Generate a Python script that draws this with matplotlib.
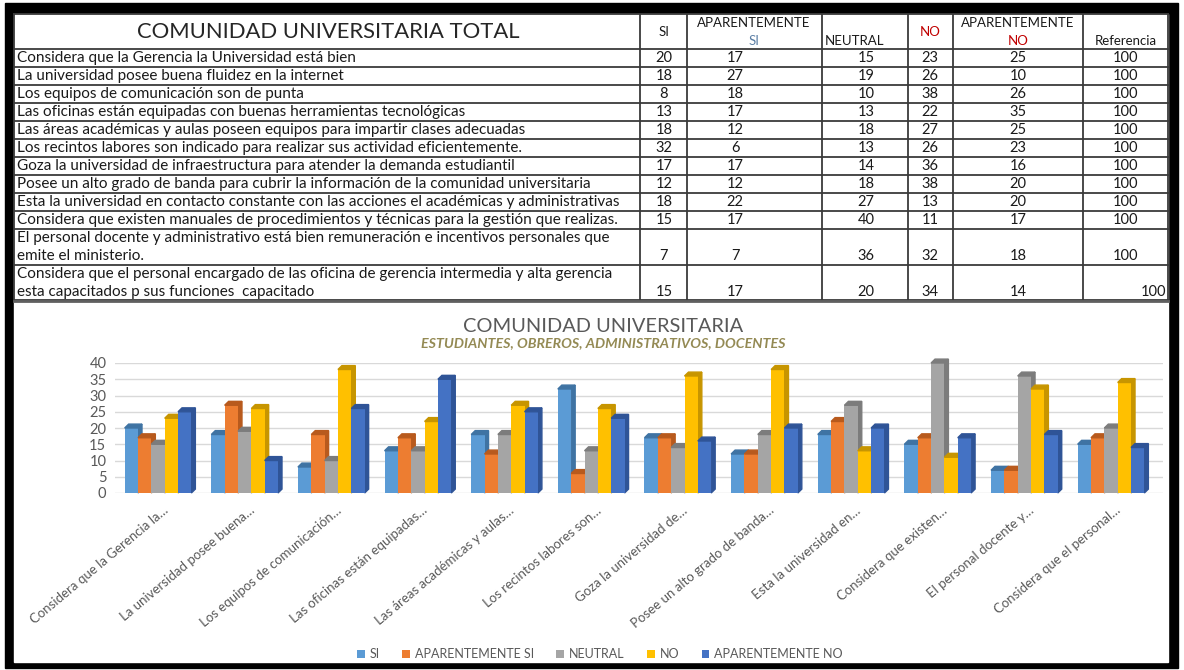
import matplotlib
matplotlib.use("Agg")
import matplotlib.pyplot as plt
from matplotlib.patches import Rectangle, Polygon
import numpy as np

plt.rcParams['font.family'] = ['Lato', 'DejaVu Sans']

# ---------------- datos ----------------
preguntas = [
    "Considera que la Gerencia la Universidad está bien",
    "La universidad posee buena fluidez en la internet",
    "Los equipos de comunicación son de punta",
    "Las oficinas están equipadas con buenas herramientas tecnológicas",
    "Las áreas académicas y aulas poseen equipos para impartir clases adecuadas",
    "Los recintos labores son indicado para realizar sus actividad eficientemente.",
    "Goza la universidad de infraestructura para atender la demanda estudiantil",
    "Posee un alto grado de banda para cubrir la información de la comunidad universitaria",
    "Esta la universidad en contacto constante con las acciones el académicas y administrativas",
    "Considera que existen manuales de procedimientos y técnicas para la gestión que realizas.",
    "El personal docente y administrativo está bien remuneración e incentivos personales que\nemite el ministerio.",
    "Considera que el personal encargado de las oficina de gerencia intermedia y alta gerencia\nesta capacitados p sus funciones  capacitado",
]
etiquetas = [
    "Considera que la Gerencia la…",
    "La universidad posee buena…",
    "Los equipos de comunicación…",
    "Las oficinas están equipadas…",
    "Las áreas académicas y aulas…",
    "Los recintos labores son…",
    "Goza la universidad de…",
    "Posee un alto grado de banda…",
    "Esta la universidad en…",
    "Considera que existen…",
    "El personal docente y…",
    "Considera que el personal…",
]
series = ["SI", "APARENTEMENTE SI", "NEUTRAL", "NO", "APARENTEMENTE NO"]
si = [20, 18, 8, 13, 18, 32, 17, 12, 18, 15, 7, 15]
ap_si = [17, 27, 18, 17, 12, 6, 17, 12, 22, 17, 7, 17]
neutral = [15, 19, 10, 13, 18, 13, 14, 18, 27, 40, 36, 20]
no = [23, 26, 38, 22, 27, 26, 36, 38, 13, 11, 32, 34]
ap_no = [25, 10, 26, 35, 25, 23, 16, 20, 20, 17, 18, 14]
referencia = [100] * 12

colores = ["#5B9BD5", "#ED7D31", "#A5A5A5", "#FFC000", "#4472C4"]
oscuros = ["#3F73A3", "#B85A1D", "#7C7C7C", "#C79500", "#2F5497"]

W, H = 1184, 670
fig = plt.figure(figsize=(W / 100, H / 100), dpi=100)

# ---------------- fondo y tabla (coordenadas en pixeles) ----------------
bg = fig.add_axes([0, 0, 1, 1])
bg.set_xlim(0, W)
bg.set_ylim(H, 0)
bg.axis("off")
bg.add_patch(Rectangle((5, 3), 1173, 665, color="black"))
bg.add_patch(Rectangle((14, 14), 1154, 648, color="white"))

linea = "#3A3A3A"
cols = [14, 640, 687, 822, 908, 953, 1083, 1168]
filas = [14, 49] + [49 + 18 * k for k in range(1, 11)] + [265, 300]
for y in filas:
    bg.plot([14, 1168], [y, y], color=linea, lw=1.3)
for x in cols:
    bg.plot([x, x], [14, 300], color=linea, lw=1.3)
bg.plot([14, 1168], [301, 301], color="#606060", lw=2)

txt = "#1A1A1A"
bg.text(328, 32, "COMUNIDAD UNIVERSITARIA TOTAL", ha="center", va="center",
        fontsize=15.8, color="#262626")
hdr = 9.5
bg.text(664, 32, "SI", ha="center", va="center", fontsize=hdr, color=txt)
bg.text(754, 23, "APARENTEMENTE", ha="center", va="center", fontsize=hdr, color=txt)
bg.text(754, 41, "SI", ha="center", va="center", fontsize=hdr, color="#5B7FA5")
bg.text(855, 41, "NEUTRAL", ha="center", va="center", fontsize=hdr, color=txt)
bg.text(930, 32, "NO", ha="center", va="center", fontsize=hdr, color="#C00000")
bg.text(1018, 23, "APARENTEMENTE", ha="center", va="center", fontsize=hdr, color=txt)
bg.text(1018, 41, "NO", ha="center", va="center", fontsize=hdr, color="#C00000")
bg.text(1126, 41, "Referencia", ha="center", va="center", fontsize=hdr, color=txt)

centros = [664, 735, 866, 930, 1018, 1126]
for i, q in enumerate(preguntas):
    if i < 10:
        yq = 58 + 18 * i
        yv = yq
    else:
        base = 229 + 36 * (i - 10)
        yq = base + 18
        yv = base + 27
    bg.text(17, yq, q, ha="left", va="center", fontsize=11, color=txt,
            linespacing=1.3)
    vals = [si[i], ap_si[i], neutral[i], no[i], ap_no[i], referencia[i]]
    for k, v in enumerate(vals):
        if i == 11 and k == 5:
            bg.text(1166, yv, str(v), ha="right", va="center", fontsize=10.5, color=txt)
        else:
            bg.text(centros[k], yv, str(v), ha="center", va="center", fontsize=10.5, color=txt)

# ---------------- grafico ----------------
ax = fig.add_axes([114.7 / W, 1 - 493 / H, (1163 - 114.7) / W, 130 / H])
ax.set_facecolor("none")
x = np.arange(len(etiquetas))
w = 0.154
dx, dy = 0.046, 1.2
datos = [si, ap_si, neutral, no, ap_no]
for j, (vals, c, cd) in enumerate(zip(datos, colores, oscuros)):
    xl = x - 2.5 * w + j * w
    ax.bar(xl, vals, width=w, align="edge", color=c, label=series[j], zorder=3 + j * 0.1)
    for xi, v in zip(xl, vals):
        side = Polygon([(xi + w, 0), (xi + w + dx, dy), (xi + w + dx, v + dy), (xi + w, v)],
                       closed=True, color=cd, zorder=2.9 + j * 0.1, clip_on=False)
        top = Polygon([(xi, v), (xi + dx, v + dy), (xi + w + dx, v + dy), (xi + w, v)],
                      closed=True, color=cd, zorder=3 + j * 0.1, clip_on=False)
        ax.add_patch(side)
        ax.add_patch(top)

ax.set_xlim(-0.5, 11.6)
ax.set_ylim(0, 40)
ax.set_yticks(range(0, 41, 5))
ax.yaxis.grid(True, color="#D9D9D9", lw=1, zorder=0)
ax.set_axisbelow(True)
for s in ax.spines.values():
    s.set_visible(False)
ax.tick_params(axis="y", length=0, labelsize=10.5, labelcolor="#595959", pad=6)
ax.set_xticks(x + 0.05)
ax.set_xticklabels(etiquetas, rotation=40, ha="right", rotation_mode="anchor",
                   fontsize=9.5, color="#595959")
ax.tick_params(axis="x", length=0, pad=8)

fig.text(603 / W, 1 - 326 / H, "COMUNIDAD UNIVERSITARIA", ha="center", va="center",
         fontsize=14.4, color="#595959")
fig.text(603 / W, 1 - 343 / H, "ESTUDIANTES, OBREROS, ADMINISTRATIVOS, DOCENTES",
         ha="center", va="center", fontsize=10.3, fontweight="bold", fontstyle="italic",
         color="#948A54")

leg = ax.legend(loc="center", bbox_to_anchor=(600 / W, 1 - 654 / H),
                bbox_transform=fig.transFigure, ncol=5, frameon=False,
                fontsize=9, handlelength=0.6, handleheight=0.6, handletextpad=0.4,
                columnspacing=1.8)
for t in leg.get_texts():
    t.set_color("#595959")

fig.savefig("out.png", dpi=100)
